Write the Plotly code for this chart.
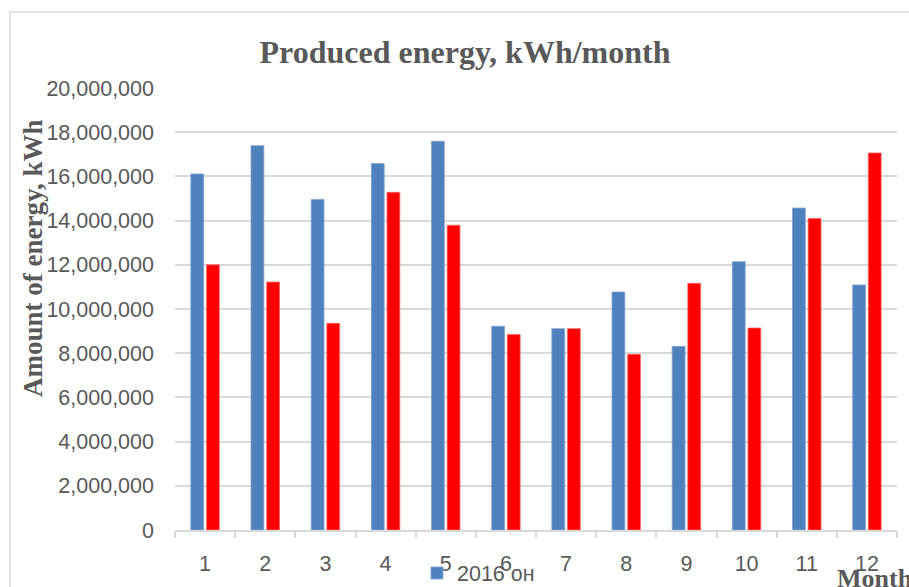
import plotly.graph_objects as go

months = ["1", "2", "3", "4", "5", "6", "7", "8", "9", "10", "11", "12"]
energy_2016 = [16110000, 17390000, 14960000, 16580000, 17590000, 9220000,
               9110000, 10770000, 8310000, 12140000, 14570000, 11090000]
energy_2017 = [12000000, 11220000, 9350000, 15280000, 13790000, 8850000,
               9110000, 7950000, 11160000, 9140000, 14100000, 17060000]
y_ticks = [0, 2000000, 4000000, 6000000, 8000000, 10000000, 12000000,
           14000000, 16000000, 18000000, 20000000]

W, H = 909, 587
L, R, T, B = 175, 12, 88, 57
pw, ph = W - L - R, H - T - B

def px(x):
    return (x - L) / pw

def py(y):
    return (H - B - y) / ph

fig = go.Figure()
fig.add_trace(go.Bar(x=months, y=energy_2016, name="2016 он",
                     marker=dict(color="#4f81bd", line=dict(color="#7fa3d3", width=0.8))))
fig.add_trace(go.Bar(x=months, y=energy_2017, name="2017 он", showlegend=False,
                     marker=dict(color="#ff0000", line=dict(color="#ff6666", width=0.8))))

gray = "#595959"
fig.update_layout(
    width=W, height=H,
    margin=dict(l=L, r=R, t=T, b=B, autoexpand=False),
    paper_bgcolor="white", plot_bgcolor="white",
    barmode="group", bargap=0.48, bargroupgap=0.18,
    font=dict(family="Liberation Sans", color=gray, size=21.5),
    title=dict(text="<b>Produced energy, kWh/month</b>",
               font=dict(family="Liberation Serif", size=32, color=gray),
               x=465 / W, xanchor="center", y=1 - 52 / H, yanchor="middle"),
    xaxis=dict(type="category", showgrid=False, showline=True, linecolor="#d9d9d9",
               linewidth=1.5, ticks="outside", tickson="boundaries", ticklen=6,
               tickcolor="#d9d9d9", tickwidth=1.5, ticklabelstandoff=13,
               tickfont=dict(size=21.5, color=gray)),
    yaxis=dict(range=[0, 20000000], tickvals=y_ticks, tickformat=",d",
               showgrid=True, gridcolor="#d9d9d9", gridwidth=1.5,
               zeroline=False, ticks="", ticklabelstandoff=20,
               tickfont=dict(size=21.5, color=gray)),
    legend=dict(orientation="h", x=px(417), y=py(573), xanchor="left", yanchor="middle",
                font=dict(size=21.5, color=gray), bgcolor="rgba(0,0,0,0)"),
    showlegend=True,
)

fig.add_annotation(text="<b>Amount of energy, kWh</b>", xref="paper", yref="paper",
                   x=px(33), y=py(258), textangle=-90, showarrow=False,
                   xanchor="center", yanchor="middle",
                   font=dict(family="Liberation Serif", size=27, color=gray))
fig.add_annotation(text="<b>Month</b>", xref="paper", yref="paper",
                   x=px(835), y=py(578), showarrow=False, xanchor="left", yanchor="middle",
                   font=dict(family="Liberation Serif", size=26, color=gray))

fig.add_shape(type="rect", xref="paper", yref="paper",
              x0=px(10), x1=px(930), y0=py(610), y1=py(12),
              line=dict(color="#d9d9d9", width=1.5), layer="below")

fig.write_html("out.html", config={"displayModeBar": False},
               post_script="document.body.style.margin='0';")
